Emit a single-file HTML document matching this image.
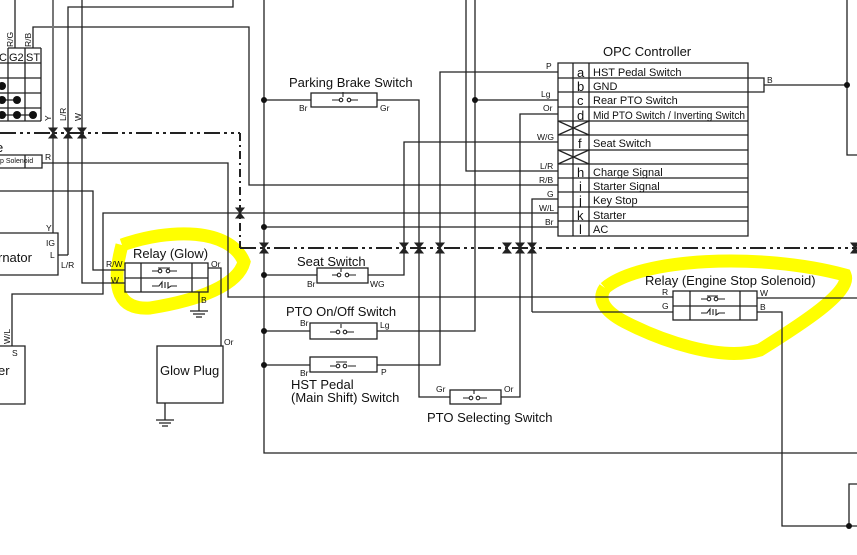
<!DOCTYPE html>
<html><head><meta charset="utf-8"><style>
html,body{margin:0;padding:0;background:#fff;}
svg{display:block;font-family:"Liberation Sans",sans-serif;}
</style></head><body>
<svg width="857" height="555" viewBox="0 0 857 555" xmlns="http://www.w3.org/2000/svg">
<defs>
<g id="bt"><path d="M-4,-5 L4,-5 L-4,5 L4,5 Z" fill="#222" stroke="#222" stroke-width="1"/></g>
</defs>
<!-- yellow highlights -->
<path d="M122,245 C170,228 230,228 244,262 C238,285 200,300 150,308 C120,310 110,290 122,245" fill="none" stroke="#ffff00" stroke-width="13"/>
<path d="M605,288 C640,258 760,252 845,275 C852,292 800,325 760,350 C720,362 660,340 625,322 C602,310 598,298 605,288" fill="none" stroke="#ffff00" stroke-width="13"/>

<g fill="none" stroke="#222" stroke-width="1.3">
<path d="M0,133 H240" stroke-dasharray="16,4,3,4,3,4" stroke-width="2"/>
<path d="M240,133 V248" stroke-dasharray="8,4,2,4" stroke-width="2"/>
<path d="M240,248 H857" stroke-dasharray="16,4,3,4,3,4" stroke-width="2"/>
<path d="M15,0 V48"/>
<path d="M33,48 V27 H249 V185 H558"/>
<path d="M53,0 V233" stroke="#777" stroke-width="2"/>
<path d="M68,255 V7 H233 V0"/>
<path d="M82,0 V283 H125"/>
<path d="M0,191 H93 V270 H125"/>
<path d="M12,346 V294 H103 V213 H558"/>
<path d="M42,163 H228 V297 H673"/>
<path d="M58,255 H68"/>
<path d="M8,48 H41 M0,63 H41 M0,78 H41 M0,93 H41 M0,108 H41 M0,121 H41 M8,48 V121 M25,48 V121 M41,48 V121"/>
<path d="M2,100 H17 M2,115 H33"/>
<path d="M0,155 H42 V168 H0 M25,155 V168"/>
<path d="M0,233 H58 V275 H0"/>
<path d="M0,346 H25 V404 H0"/>
<rect x="125" y="263" width="83" height="29"/>
<path d="M125,278 H208 M141,263 V292 M192,263 V292"/>
<path d="M208,268 H221 V346"/>
<path d="M199,292 V311 M190,311 H208 M193,314 H205 M196,317 H202"/>
<rect x="157" y="346" width="66" height="57"/>
<path d="M165,403 V420 M156,420 H174 M159,423 H171 M162,426 H168"/>
<path d="M264,0 V453 H857"/>
<path d="M264,100 H311 M377,100 H419 V397 H450"/>
<rect x="311" y="93" width="66" height="14"/>
<path d="M264,227 H558"/>
<path d="M264,275 H317 M368,275 H404 V142 H558"/>
<rect x="317" y="268" width="51" height="15"/>
<path d="M264,331 H310 M377,331 H475 V0"/>
<rect x="310" y="323" width="67" height="16"/>
<path d="M264,365 H310 M377,365 H440 V72 H558"/>
<rect x="310" y="357" width="67" height="15"/>
<rect x="450" y="390" width="51" height="14"/>
<path d="M501,397 H520 V114 H558"/>
<path d="M466,0 V171 H558"/>
<path d="M475,100 H558"/>
<path d="M532,312 V199 H558"/>
<path d="M532,312 H673"/>
<path d="M558,63 H748 V236 H558 Z"/>
<path d="M558,78 H748 M558,92 H748 M558,107 H748 M558,121 H748 M558,135 H748 M558,150 H748 M558,164 H748 M558,178 H748 M558,192 H748 M558,207 H748 M558,221 H748"/>
<path d="M573,63 V236 M589,63 V236"/>
<path d="M558,121 L589,135 M558,135 L589,121 M573,121 V135" />
<path d="M558,150 L589,164 M558,164 L589,150" />
<path d="M748,78 H764 V92 H748 M764,85 H847"/>
<path d="M847,0 V155 H857"/>
<rect x="673" y="291" width="84" height="29"/>
<path d="M673,306 H757 M690,291 V320 M740,291 V320"/>
<path d="M757,298 H857"/>
<path d="M757,312 H782 V526 H857 M849,526 V484 H857"/>
</g>
<g fill="none" stroke="#222" stroke-width="1.1">
<path d="M332,100 H340 M350,100 H358 M343,97 V92"/>
<circle cx="341" cy="100" r="1.8"/><circle cx="349" cy="100" r="1.8"/>
<path d="M332,275 H338 M348,275 H356 M341,272 V268"/>
<circle cx="339" cy="275" r="1.8"/><circle cx="347" cy="275" r="1.8"/>
<path d="M330,332 H336 M346,332 H354 M341,328 V324"/>
<circle cx="338" cy="332" r="1.8"/><circle cx="345" cy="332" r="1.8"/>
<path d="M330,366 H336 M348,366 H356 M336,362 H347"/>
<circle cx="338" cy="366" r="1.8"/><circle cx="345" cy="366" r="1.8"/>
<path d="M463,398 H469 M480,398 H487 M474,394 V390"/>
<circle cx="471" cy="398" r="1.8"/><circle cx="478" cy="398" r="1.8"/>
<path d="M152,271 H158 M170,271 H177 M158,268 H170"/>
<circle cx="160" cy="271" r="1.8"/><circle cx="168" cy="271" r="1.8"/>
<path d="M152,286 H159 L162,282 V288 M165,282 V288 M168,282 V288 L171,286 H177"/>
<path d="M701,299 H707 M718,299 H725 M707,296 H718"/>
<circle cx="709" cy="299" r="1.8"/><circle cx="716" cy="299" r="1.8"/>
<path d="M701,313 H707 L710,309 V315 M713,309 V315 M716,309 V315 L719,313 H725"/>
</g>
<g fill="#111">
<circle cx="2" cy="86" r="4"/><circle cx="2" cy="100" r="4"/><circle cx="17" cy="100" r="4"/>
<circle cx="2" cy="115" r="4"/><circle cx="17" cy="115" r="4"/><circle cx="33" cy="115" r="4"/>
<circle cx="264" cy="100" r="3"/><circle cx="264" cy="227" r="3"/><circle cx="264" cy="275" r="3"/>
<circle cx="264" cy="331" r="3"/><circle cx="264" cy="365" r="3"/><circle cx="475" cy="100" r="3"/>
<circle cx="847" cy="85" r="3"/><circle cx="849" cy="526" r="3"/>
</g>
<use href="#bt" x="53" y="133"/><use href="#bt" x="68" y="133"/><use href="#bt" x="82" y="133"/>
<use href="#bt" x="240" y="213"/><use href="#bt" x="264" y="248"/><use href="#bt" x="404" y="248"/>
<use href="#bt" x="419" y="248"/><use href="#bt" x="440" y="248"/><use href="#bt" x="507" y="248"/>
<use href="#bt" x="520" y="248"/><use href="#bt" x="532" y="248"/><use href="#bt" x="855" y="248"/>
<g fill="#111" font-size="13">
<text x="-1" y="61" font-size="11">C</text><text x="9" y="61" font-size="11">G2</text><text x="26" y="61" font-size="11">ST</text>
<text x="603" y="56">OPC Controller</text>
<text x="289" y="87">Parking Brake Switch</text>
<text x="297" y="266">Seat Switch</text>
<text x="286" y="316">PTO On/Off Switch</text>
<text x="291" y="389">HST Pedal</text>
<text x="291" y="402">(Main Shift) Switch</text>
<text x="427" y="422">PTO Selecting Switch</text>
<text x="133" y="258">Relay (Glow)</text>
<text x="645" y="285">Relay (Engine Stop Solenoid)</text>
<text x="160" y="375">Glow Plug</text>
<text x="-2" y="262">rnator</text>
<text x="-2" y="375">er</text>
<text x="-4" y="152">e</text>
</g>
<g fill="#111" font-size="11">
<text x="593" y="76">HST Pedal Switch</text>
<text x="593" y="90">GND</text>
<text x="593" y="104">Rear PTO Switch</text>
<text x="593" y="119" textLength="152" lengthAdjust="spacingAndGlyphs">Mid PTO Switch / Inverting Switch</text>
<text x="593" y="147">Seat Switch</text>
<text x="593" y="176">Charge Signal</text>
<text x="593" y="190">Starter Signal</text>
<text x="593" y="204">Key Stop</text>
<text x="593" y="219">Starter</text>
<text x="593" y="233">AC</text>
</g>
<g fill="#111" font-size="13">
<text x="577" y="77">a</text><text x="577" y="91">b</text><text x="577" y="105">c</text><text x="577" y="120">d</text>
<text x="578" y="148">f</text><text x="577" y="177">h</text><text x="579" y="191">i</text><text x="579" y="205">j</text>
<text x="577" y="220">k</text><text x="579" y="234">l</text>
</g>
<g fill="#111" font-size="8.5">
<text x="546" y="69">P</text><text x="541" y="97">Lg</text><text x="543" y="111">Or</text>
<text x="537" y="140">W/G</text><text x="540" y="169">L/R</text><text x="539" y="183">R/B</text>
<text x="547" y="197">G</text><text x="539" y="211">W/L</text><text x="545" y="225">Br</text>
<text x="767" y="83">B</text>
<text x="299" y="111">Br</text><text x="380" y="111">Gr</text>
<text x="307" y="287">Br</text><text x="370" y="287">WG</text>
<text x="300" y="326">Br</text><text x="380" y="328">Lg</text>
<text x="300" y="376">Br</text><text x="381" y="375">P</text>
<text x="436" y="392">Gr</text><text x="504" y="392">Or</text>
<text x="106" y="267">R/W</text><text x="111" y="283">W</text><text x="211" y="267">Or</text>
<text x="201" y="303">B</text><text x="224" y="345">Or</text>
<text x="662" y="295">R</text><text x="662" y="309">G</text><text x="760" y="296">W</text><text x="760" y="310">B</text>
<text x="45" y="160">R</text><text x="46" y="231">Y</text><text x="46" y="246">IG</text><text x="50" y="258">L</text>
<text x="61" y="268">L/R</text><text x="12" y="356">S</text>
<text x="0" y="163" font-size="7">p Solenoid</text>
</g>
<g fill="#111" font-size="8.5">
<text transform="translate(13,47) rotate(-90)">R/G</text>
<text transform="translate(31,47) rotate(-90)">R/B</text>
<text transform="translate(51,121) rotate(-90)">Y</text>
<text transform="translate(66,121) rotate(-90)">L/R</text>
<text transform="translate(81,121) rotate(-90)">W</text>
<text transform="translate(10,344) rotate(-90)">W/L</text>
</g>
</svg>
</body></html>
